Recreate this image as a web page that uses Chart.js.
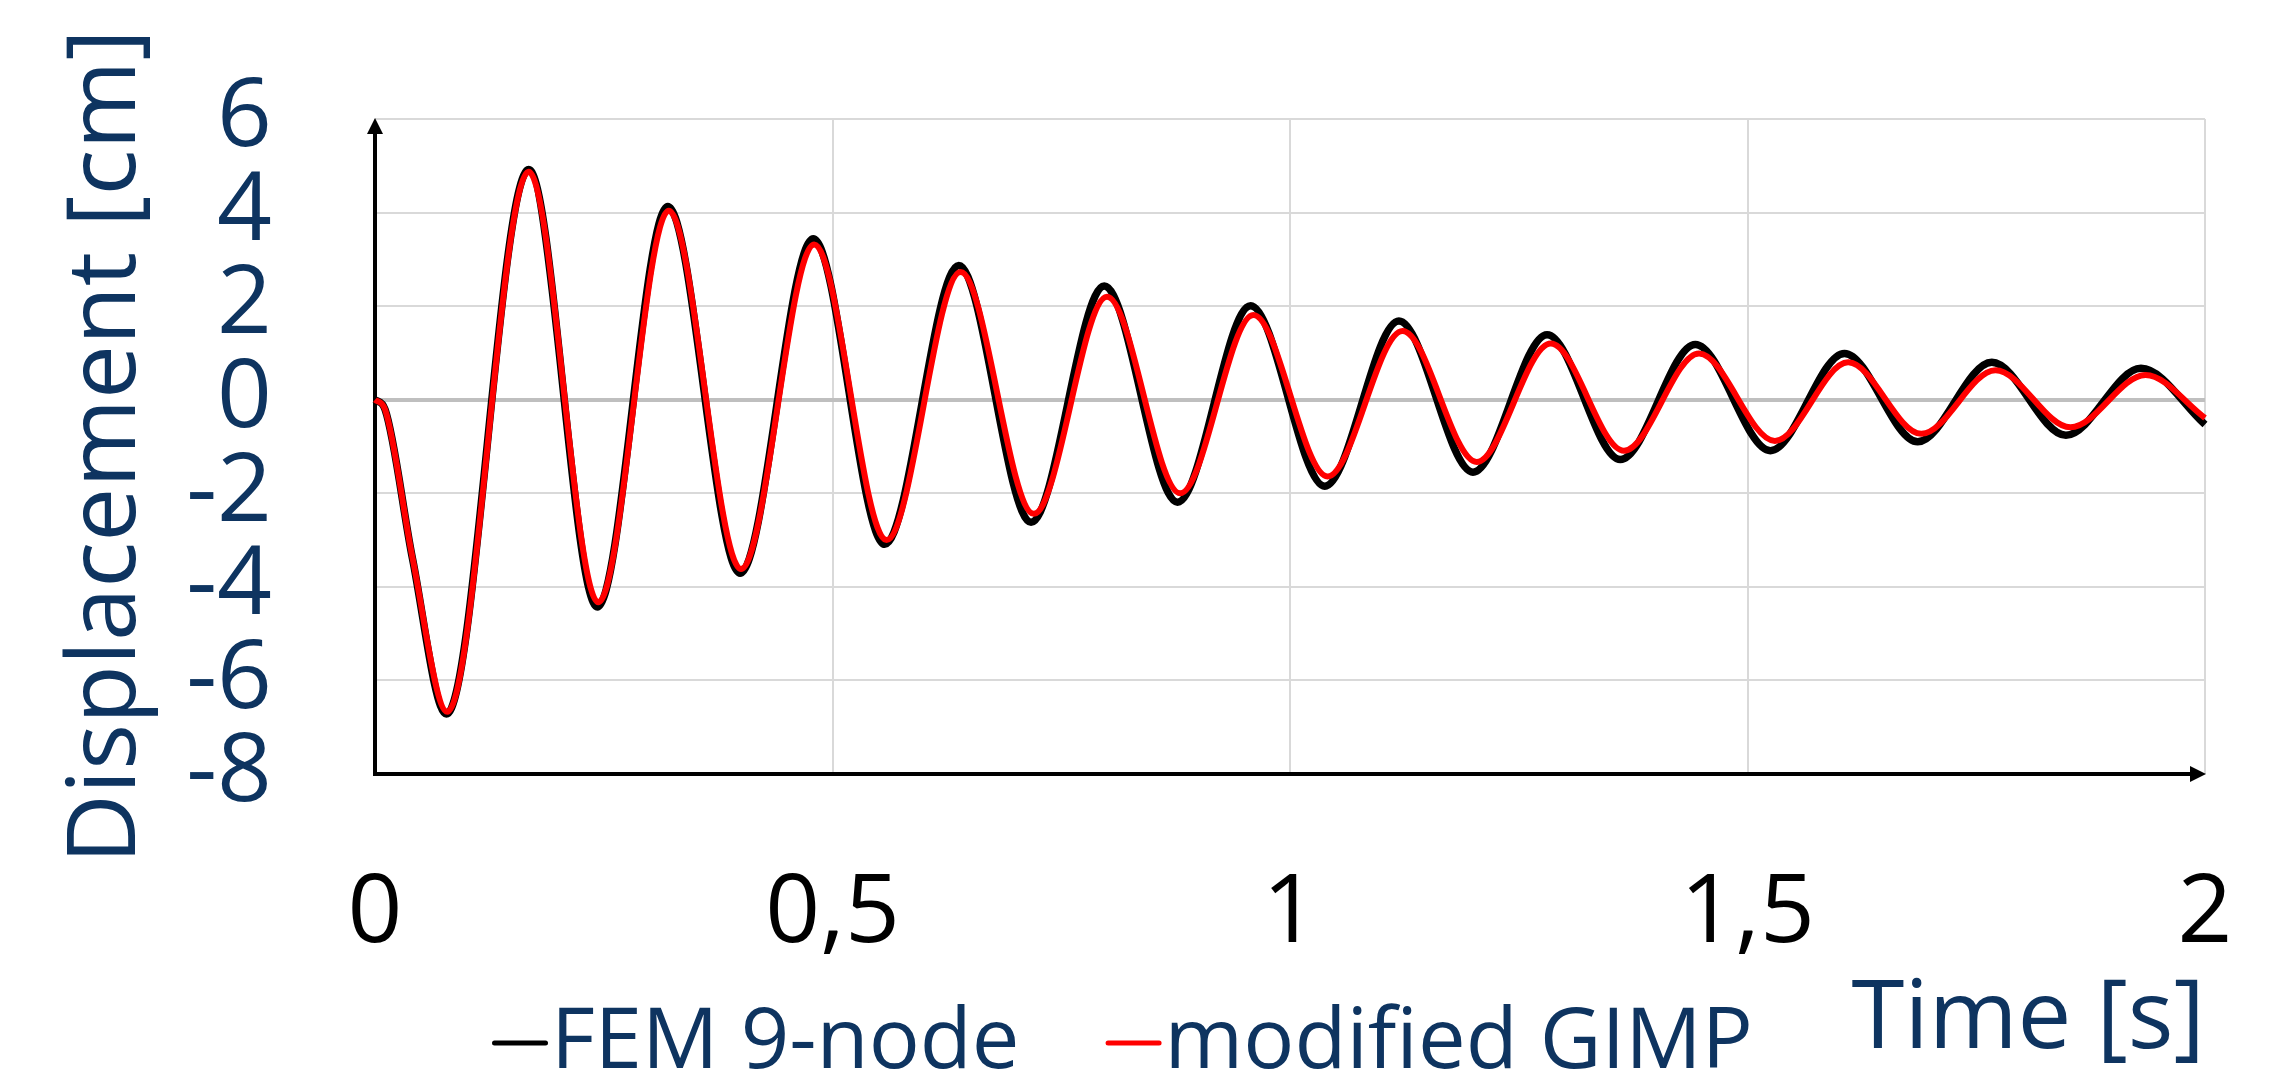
<!DOCTYPE html>
<html>
<head>
<meta charset="utf-8">
<title>Displacement over time</title>
<script src="https://cdn.jsdelivr.net/npm/chart.js@4.4.1/dist/chart.umd.min.js"></script>
<style>
  html, body { margin: 0; padding: 0; background: #fff; }
  #wrap { width: 2290px; height: 1082px; }
</style>
</head>
<body>
<div id="wrap"><canvas id="myChart" width="2290" height="1082"></canvas></div>
<script>
//values: start of the dip, then every peak and trough
var femTime = [0, 0.011, 0.041, 0.078, 0.168, 0.243, 0.32, 0.399, 0.479, 0.557, 0.638, 0.717, 0.797, 0.877,
  0.957, 1.038, 1.119, 1.2, 1.281, 1.361, 1.443, 1.525, 1.606, 1.686, 1.767, 1.848, 1.93, 2.0];
var femDisp = [0, -0.21, -3.4, -6.72, 4.92, -4.43, 4.13, -3.71, 3.44, -3.09, 2.87, -2.62, 2.43, -2.19,
  2.01, -1.85, 1.68, -1.55, 1.39, -1.28, 1.18, -1.09, 0.99, -0.9, 0.8, -0.76, 0.67, -0.53];
var gimpTime = [0, 0.011, 0.041, 0.079, 0.168, 0.244, 0.321, 0.4, 0.48, 0.559, 0.64, 0.72, 0.8, 0.88,
  0.96, 1.041, 1.123, 1.204, 1.285, 1.365, 1.447, 1.53, 1.61, 1.69, 1.771, 1.853, 1.935, 2.0];
var gimpDisp = [0, -0.21, -3.38, -6.67, 4.87, -4.33, 4.04, -3.62, 3.32, -3.0, 2.73, -2.44, 2.2, -2.0,
  1.81, -1.64, 1.47, -1.33, 1.2, -1.09, 0.99, -0.88, 0.8, -0.73, 0.63, -0.59, 0.53, -0.39];

var seriesLabels = ["FEM 9-node", "modified GIMP"];
var xTickLabels = ["0", "0,5", "1", "1,5", "2"];
var yTickLabels = ["-8", "-6", "-4", "-2", "0", "2", "4", "6"];

var navy = "#0e3460";
var bigFont = { family: "'Open Sans'", size: 96 };

function toPoints(t, v) {
  return t.map(function (x, i) {
    return { x: x, y: v[i] };
  });
}

//black axis lines with arrow heads, under the curves
var axisArrows = {
  id: "axisArrows",
  beforeDatasetsDraw: function (chart) {
    var ctx = chart.ctx;
    var x0 = chart.scales.x.getPixelForValue(0);
    var x1 = chart.scales.x.getPixelForValue(2);
    var y0 = chart.scales.y.getPixelForValue(-8);
    var y1 = chart.scales.y.getPixelForValue(6);
    ctx.save();
    ctx.strokeStyle = "#000";
    ctx.fillStyle = "#000";
    ctx.lineWidth = 4;
    ctx.beginPath();
    ctx.moveTo(x0, y0 + 2);
    ctx.lineTo(x0, y1 + 12);
    ctx.moveTo(x0 - 2, y0);
    ctx.lineTo(x1 - 12, y0);
    ctx.stroke();
    ctx.beginPath();
    ctx.moveTo(x0, y1 - 1);
    ctx.lineTo(x0 - 8, y1 + 15);
    ctx.lineTo(x0 + 8, y1 + 15);
    ctx.closePath();
    ctx.moveTo(x1 + 1, y0);
    ctx.lineTo(x1 - 15, y0 - 8);
    ctx.lineTo(x1 - 15, y0 + 8);
    ctx.closePath();
    ctx.fill();
    ctx.restore();
  },
};

//legend shares the row with the x title, so it is drawn here
var lineLegend = {
  id: "lineLegend",
  afterDraw: function (chart) {
    var ctx = chart.ctx;
    var x = 492;
    var y = 1068;
    ctx.save();
    ctx.font = "85px 'Open Sans'";
    ctx.textBaseline = "alphabetic";
    chart.data.datasets.forEach(function (ds) {
      ctx.strokeStyle = ds.borderColor;
      ctx.lineWidth = 5;
      ctx.lineCap = "round";
      ctx.beginPath();
      ctx.moveTo(x + 2.5, y - 25);
      ctx.lineTo(x + 53.5, y - 25);
      ctx.stroke();
      ctx.fillStyle = navy;
      ctx.fillText(ds.label, x + 59, y);
      x += 59 + ctx.measureText(ds.label).width + 86;
    });
    ctx.restore();
  },
};

var ctx = document.getElementById("myChart").getContext("2d");
var myChart = new Chart(ctx, {
  type: "line",
  data: {
    datasets: [
      {
        label: seriesLabels[0],
        data: toPoints(femTime, femDisp),
        borderColor: "#000000",
        backgroundColor: "#000000",
        borderWidth: 7.5,
        order: 2,
        clip: 10,
      },
      {
        label: seriesLabels[1],
        data: toPoints(gimpTime, gimpDisp),
        borderColor: "#ff0000",
        backgroundColor: "#ff0000",
        borderWidth: 6,
        order: 1,
        clip: 10,
      },
    ],
  },
  options: {
    responsive: false,
    animation: false,
    layout: { padding: { top: 119, right: 85, bottom: 0, left: 0 } },
    elements: {
      point: { radius: 0 },
      line: { cubicInterpolationMode: "monotone", fill: false },
    },
    plugins: {
      legend: { display: false },
      tooltip: { enabled: false },
    },
    scales: {
      x: {
        type: "linear",
        min: 0,
        max: 2,
        grid: { color: "#d9d9d9", lineWidth: 2, drawTicks: false },
        border: { display: false },
        ticks: {
          stepSize: 0.5,
          autoSkip: false,
          maxRotation: 0,
          padding: 83,
          color: "#000000",
          font: bigFont,
          callback: function (value, index) {
            return xTickLabels[index];
          },
        },
        title: {
          display: true,
          text: "Time [s]",
          align: "end",
          color: navy,
          font: bigFont,
          padding: { top: 0, bottom: 4 },
        },
        afterFit: function (scale) {
          scale.height = 308;
          scale.paddingLeft = 0;
          scale.paddingRight = 0;
        },
      },
      y: {
        min: -8,
        max: 6,
        grid: {
          color: function (c) {
            return c.tick && c.tick.value === 0 ? "#bfbfbf" : "#d9d9d9";
          },
          lineWidth: function (c) {
            return c.tick && c.tick.value === 0 ? 4 : 2;
          },
          drawTicks: false,
        },
        border: { display: false },
        ticks: {
          stepSize: 2,
          autoSkip: false,
          padding: 103,
          color: navy,
          font: bigFont,
          callback: function (value, index) {
            return yTickLabels[index];
          },
        },
        title: {
          display: true,
          text: "Displacement [cm]",
          color: navy,
          font: bigFont,
          padding: { top: 50, bottom: 0 },
        },
        afterFit: function (scale) {
          scale.width = 375;
          scale.paddingTop = 0;
          scale.paddingBottom = 0;
        },
      },
    },
  },
  plugins: [axisArrows, lineLegend],
});
</script>
</body>
</html>
